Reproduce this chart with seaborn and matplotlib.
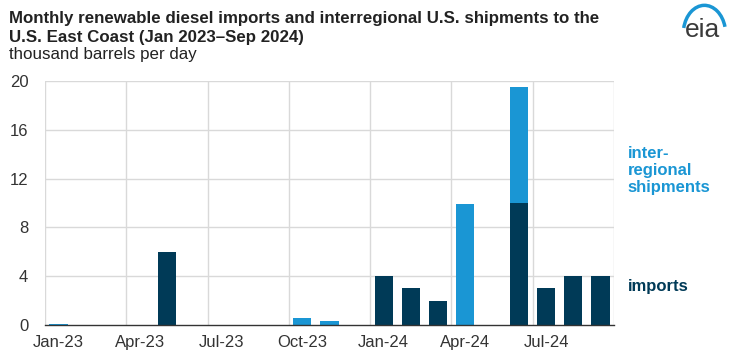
import matplotlib
matplotlib.use("Agg")
import matplotlib.pyplot as plt
import seaborn as sns
import numpy as np
from matplotlib.patches import Arc

months = ["Jan-23", "Feb-23", "Mar-23", "Apr-23", "May-23", "Jun-23", "Jul-23",
          "Aug-23", "Sep-23", "Oct-23", "Nov-23", "Dec-23", "Jan-24", "Feb-24",
          "Mar-24", "Apr-24", "May-24", "Jun-24", "Jul-24", "Aug-24", "Sep-24"]
imports = [0, 0, 0, 0, 6.0, 0, 0, 0, 0, 0, 0, 0, 4.0, 3.0, 2.0, 0, 0, 10.0, 3.0, 4.0, 4.0]
interregional = [0.1, 0, 0, 0, 0, 0, 0, 0, 0, 0.6, 0.3, 0, 0, 0, 0, 9.9, 0, 9.5, 0, 0, 0]
y_ticks = [0, 4, 8, 12, 16, 20]

DARK = "#003a57"
BLUE = "#1a96d4"

sns.set_style("white")
plt.rcParams["font.family"] = ["Liberation Sans", "DejaVu Sans"]

fig = plt.figure(figsize=(7.3, 3.56), dpi=100)
ax = fig.add_axes([0.0616, 0.087, 0.7795, 0.685])

totals = [a + b for a, b in zip(imports, interregional)]
sns.barplot(x=months, y=totals, order=months, color=BLUE, saturation=1,
            width=0.67, ax=ax, zorder=3, linewidth=0, edgecolor="none")
sns.barplot(x=months, y=imports, order=months, color=DARK, saturation=1,
            width=0.67, ax=ax, zorder=3, linewidth=0, edgecolor="none")

n = len(months)
ax.set_xlim(-0.5, n - 0.5)
ax.set_ylim(0, 20)
ax.set_yticks(y_ticks)
ax.set_yticklabels([str(v) for v in y_ticks], fontsize=12, color="#333333")

major = list(range(0, n, 3))
ax.set_xticks(major)
ax.set_xticklabels([months[i] for i in major], fontsize=12, color="#333333")
ax.set_xticks([i - 0.5 for i in range(0, n + 1, 3)], minor=True)
ax.tick_params(axis="x", which="major", length=0, pad=7)
ax.tick_params(axis="x", which="minor", length=5, width=1, color="#333333", direction="out")
ax.tick_params(axis="y", length=0, pad=12)

ax.grid(False)
for yv in y_ticks[1:]:
    ax.axhline(yv, color="#d9d9d9", lw=1, zorder=1)
for xv in range(0, n + 1, 3):
    ax.axvline(xv - 0.5, color="#d9d9d9", lw=1, zorder=1)

for s in ["top", "right", "left"]:
    ax.spines[s].set_visible(False)
ax.spines["bottom"].set_color("#333333")
ax.spines["bottom"].set_linewidth(1)
ax.spines["bottom"].set_zorder(4)
ax.set_xlabel("")
ax.set_ylabel("")

fig.text(0.013, 0.97, "Monthly renewable diesel imports and interregional U.S. shipments to the\nU.S. East Coast (Jan 2023\u2013Sep 2024)",
         fontsize=12.2, fontweight="bold", color="#222222", va="top", ha="left", linespacing=1.32)
fig.text(0.013, 0.868, "thousand barrels per day", fontsize=12.2, color="#222222", va="top", ha="left")

fig.text(0.86, 0.522, "inter-\nregional\nshipments", fontsize=12, fontweight="bold",
         color=BLUE, va="center", ha="left", linespacing=1.17)
fig.text(0.86, 0.194, "imports", fontsize=12, fontweight="bold", color=DARK,
         va="center", ha="left")

# eia logo
fig.text(0.962, 0.915, "eia", fontsize=19, color="#3a3a3a", ha="center", va="center")
arc = Arc((0.965, 0.905), 0.058, 0.16, theta1=35, theta2=150, transform=fig.transFigure,
          color=BLUE, lw=2.5)
fig.add_artist(arc)

fig.savefig("out.png", dpi=100)
